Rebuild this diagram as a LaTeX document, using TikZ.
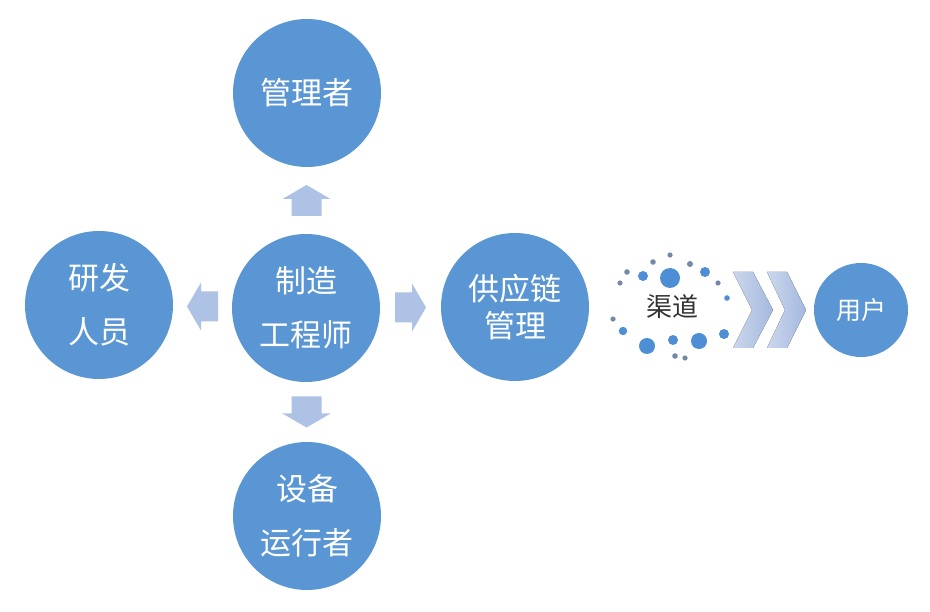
\documentclass[tikz,border=0pt]{standalone}
\usepackage{fontspec}
\newfontfamily\cjk{Noto Sans CJK SC}
\usetikzlibrary{calc}
\definecolor{bubblue}{HTML}{5A96D4}
\definecolor{arrowfill}{HTML}{ADC2E4}
\definecolor{chevl}{HTML}{CBD7EC}
\definecolor{chevr}{HTML}{A4B9DF}
\definecolor{dotblue}{HTML}{4E8ED5}
\definecolor{dotgray}{HTML}{7488A8}
\definecolor{chtext}{HTML}{333333}
\tikzset{
  bubble/.style={circle, fill=bubblue, text=white, inner sep=0pt,
    minimum size=148pt, align=center, font=\cjk\fontsize{31}{54}\selectfont},
  blockarrow/.pic={\fill[arrowfill] (-15.5,-15) -- (1.5,-15) -- (1.5,-24) -- (15.5,0)
    -- (1.5,24) -- (1.5,15) -- (-15.5,15) -- cycle;},
  chev/.style={left color=chevl, right color=chevr}
}
\begin{document}
\begin{tikzpicture}[x=1pt,y=-1pt]
\useasboundingbox (0,0) rectangle (930,612);
\fill[white] (0,0) rectangle (930,612);

\node[bubble] (mgr) at (307,93) {管理者};
\node[bubble] (eng) at (306,308) {制造\\工程师};
\node[bubble] (rd) at (99,305) {研发\\人员};
\node[bubble] (op) at (307,516) {设备\\运行者};
\node[bubble, font=\cjk\fontsize{31}{37}\selectfont] (sc) at (515,307) {供应链\\管理};
\node[bubble, minimum size=94pt, font=\cjk\fontsize{25}{28}\selectfont] (user) at (861,310) {用户};

\pic[rotate=90] at ($(eng.north)!0.5!(mgr.south)$) {blockarrow};
\pic[rotate=180] at ($(eng.west)!0.5!(rd.east)$) {blockarrow};
\pic at ($(eng.east)!0.5!(sc.west)$) {blockarrow};
\pic[rotate=270] at ($(eng.south)!0.5!(op.north)$) {blockarrow};

% channel dots
\foreach \x/\y/\r/\c in {
  670/255/2.6/dotgray, 653/262/2.8/dotgray, 690/264/3/dotgray,
  627/272/2.8/dotgray, 643/276/5/dotblue, 670/278/10/dotblue,
  705/272/5/dotblue, 620/283/2.6/dotgray, 718/283/2.6/dotgray,
  727/298/2.8/dotblue, 613/319/2.6/dotgray, 623/331/4.2/dotblue,
  647/346/8/dotblue, 673/340/5/dotblue, 699/341/8/dotblue,
  724/334/5/dotblue, 675/356/2.8/dotgray, 685/358/2.6/dotgray}
  \fill[\c] (\x,\y) circle[radius=\r pt];
\node[font=\cjk\fontsize{26}{28}\selectfont, text=chtext] (ch) at (672,307) {渠道};

% chevrons
\fill[chev] (733,272) -- (753,272) -- (773,310) -- (753,348) -- (733,348) -- (752,310) -- cycle;
\fill[chev] (767,272) -- (787,272) -- (806,310) -- (787,348) -- (767,348) -- (785,310) -- cycle;
\end{tikzpicture}
\end{document}
